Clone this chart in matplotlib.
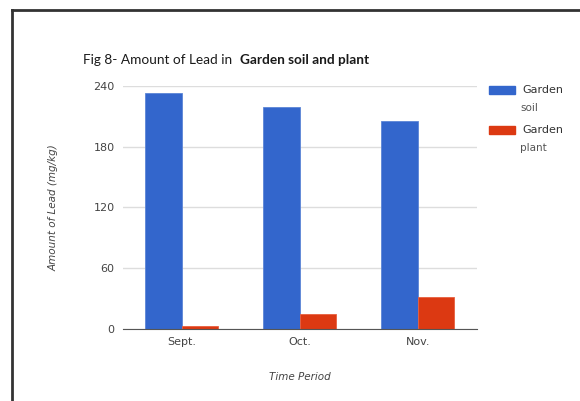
import matplotlib.pyplot as plt
import matplotlib.patches as mpatches
import numpy as np

months = ["Sept.", "Oct.", "Nov."]
soil = [233, 219, 205]
plant = [3, 15, 31]
y_ticks = [0, 60, 120, 180, 240]

blue = "#3366cc"
red = "#dc3912"

fig = plt.figure(figsize=(5.8, 4.01), dpi=100)
ax = fig.add_axes([0.212, 0.18, 0.61, 0.606])

x = np.arange(len(months))
w = 0.31
ax.bar(x - w / 2, soil, w, color=blue, edgecolor="#5c85d6", linewidth=0.6, zorder=3)
ax.bar(x + w / 2, plant, w, color=red, edgecolor="#e8603f", linewidth=0.6, zorder=3)

ax.set_xlim(-0.5, 2.5)
ax.set_ylim(0, 240)
ax.set_yticks(y_ticks)
ax.set_xticks(x)
ax.set_xticklabels(months)
ax.tick_params(length=0, labelsize=8, colors="#444444", pad=6)
ax.grid(axis="y", color="#dddddd", linewidth=1, zorder=0)
for s in ["top", "right", "left"]:
    ax.spines[s].set_visible(False)
ax.spines["bottom"].set_color("#555555")
ax.spines["bottom"].set_zorder(4)

ax.set_ylabel("Amount of Lead (mg/kg)", fontsize=7.5, style="italic",
              color="#444444", labelpad=25)
ax.set_xlabel("Time Period", fontsize=7.5, style="italic",
              color="#444444", labelpad=18)

# title in two parts, second part bold
ty = 1 - 60 / 401
t1 = fig.text(83 / 580, ty, "Fig 8- Amount of Lead in  ", fontsize=9.8,
              family="Lato", color="#1a1a1a", va="center", ha="left")
fig.canvas.draw()
bb = t1.get_window_extent()
fig.text(max(bb.x1, 240) / 580, ty, "Garden soil and plant", fontsize=9.8,
         family="Lato", weight="bold", color="#1a1a1a", va="center", ha="left")

# legend drawn by hand
for (y0, color, l1, l2) in [(86, blue, "Garden", "soil"), (126, red, "Garden", "plant")]:
    fig.patches.append(mpatches.Rectangle((489 / 580, 1 - (y0 + 8) / 401), 26 / 580, 8 / 401,
                                          transform=fig.transFigure, color=color))
    fig.text(522 / 580, 1 - (y0 + 4) / 401, l1, fontsize=8, color="#333333",
             va="center", ha="left")
    fig.text(520 / 580, 1 - (y0 + 22) / 401, l2, fontsize=7.5, color="#555555",
             va="center", ha="left")

# outer frame lines (top and left)
fig.add_artist(plt.Line2D([12 / 580, 1], [1 - 10 / 401, 1 - 10 / 401],
                          transform=fig.transFigure, color="#333333", linewidth=2))
fig.add_artist(plt.Line2D([12 / 580, 12 / 580], [0, 1 - 10 / 401],
                          transform=fig.transFigure, color="#333333", linewidth=2))

fig.savefig("out.png", dpi=100)
